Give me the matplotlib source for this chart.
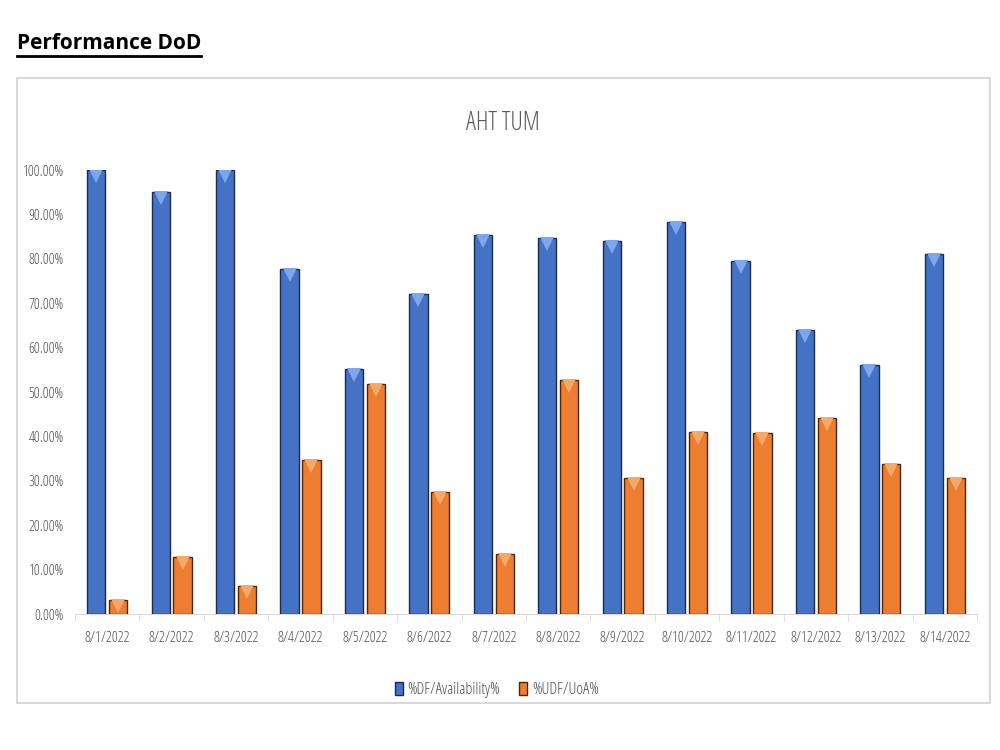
import numpy as np
import matplotlib.pyplot as plt
import matplotlib.transforms as mtransforms
from matplotlib.patches import Rectangle
from matplotlib.lines import Line2D
from matplotlib.ticker import FuncFormatter

# data
dates = ['8/1/2022', '8/2/2022', '8/3/2022', '8/4/2022', '8/5/2022', '8/6/2022', '8/7/2022',
         '8/8/2022', '8/9/2022', '8/10/2022', '8/11/2022', '8/12/2022', '8/13/2022', '8/14/2022']
availability = [100.0, 95.0, 100.0, 77.7, 55.2, 72.1, 85.4, 84.7, 84.0, 88.3, 79.5, 64.0, 56.1, 81.1]
uoa = [3.2, 12.8, 6.3, 34.7, 51.8, 27.5, 13.5, 52.7, 30.6, 41.0, 40.8, 44.1, 33.8, 30.6]

plt.rcParams['font.family'] = ['Open Sans', 'DejaVu Sans']
plt.rcParams['font.stretch'] = 'condensed'

fig = plt.figure(figsize=(10, 7.5), dpi=100)

# outer chart frame
fig.add_artist(Rectangle((0.017, 0.063), 0.973, 0.833, transform=fig.transFigure,
                         facecolor='none', edgecolor='#d9d9d9', linewidth=1.5, zorder=-1))

# heading with underline as wide as the text
head = fig.text(0.017, 0.935, 'Performance DoD', fontsize=15, fontweight='bold', color='black',
                ha='left', va='baseline')
fig.canvas.draw()
bb = head.get_window_extent().transformed(fig.transFigure.inverted())
fig.add_artist(Line2D([bb.x0, bb.x1], [0.925, 0.925], transform=fig.transFigure,
                      color='black', linewidth=2))

ax = fig.add_axes([0.075, 0.1813, 0.902, 0.592])
x = np.arange(len(dates))
w = 0.285
ax.bar(x - 0.17, availability, width=w, color='#4472c4', edgecolor='#1a2b4f', linewidth=1,
       label='%DF/Availability%', zorder=3)
ax.bar(x + 0.17, uoa, width=w, color='#ed7d31', edgecolor='#4d2508', linewidth=1,
       label='%UDF/UoA%', zorder=3)

# bevel highlight at the top of each bar
shift = mtransforms.offset_copy(ax.transData, fig=fig, x=0, y=-4.5, units='points')
ax.plot(x - 0.17, availability, 'v', color='#7ea6ec', markersize=10, markeredgewidth=0,
        transform=shift, zorder=4)
ax.plot(x + 0.17, uoa, 'v', color='#f7a865', markersize=10, markeredgewidth=0,
        transform=shift, zorder=4)

ax.set_ylim(0, 100)
ax.set_xlim(-0.5, len(dates) - 0.5)
ax.set_yticks(np.arange(0, 101, 10))
ax.yaxis.set_major_formatter(FuncFormatter(lambda v, p: f'{v:.2f}%'))
ax.set_xticks(x)
ax.set_xticklabels(dates)
ax.set_xticks(np.arange(-0.5, len(dates), 1), minor=True)
ax.tick_params(axis='x', which='major', length=0, pad=12, labelsize=10.5, labelcolor='#4d4d4d')
ax.tick_params(axis='x', which='minor', length=5, color='#d9d9d9')
ax.tick_params(axis='y', length=0, labelsize=10.5, labelcolor='#4d4d4d', pad=8)
for s in ['top', 'right', 'left']:
    ax.spines[s].set_visible(False)
ax.spines['bottom'].set_color('#d9d9d9')

fig.text(0.503, 0.835, 'AHT TUM', fontsize=18, color='#595959', ha='center', va='center')

ax.legend(loc='center', bbox_to_anchor=(0.497, 0.08), bbox_transform=fig.transFigure,
          ncol=2, frameon=False, fontsize=11.5, labelcolor='#4d4d4d', handlelength=0.5,
          handleheight=0.9, handletextpad=0.3, columnspacing=1.2)

fig.savefig('out.png', dpi=100)
